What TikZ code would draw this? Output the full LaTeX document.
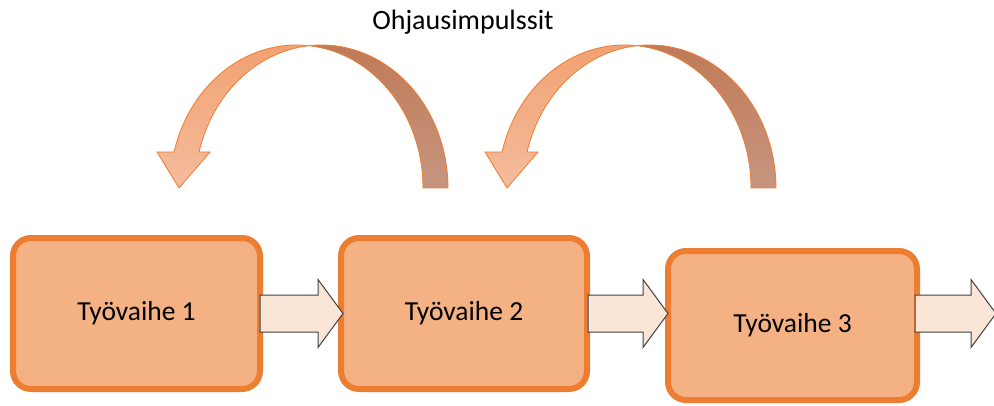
\documentclass[tikz,border=0pt]{standalone}
\usepackage{fontspec}
\setmainfont{Carlito}
\definecolor{boxfill}{HTML}{F4B183}
\definecolor{boxline}{HTML}{ED7D31}
\definecolor{flowfill}{HTML}{FBE5D6}
\definecolor{flowline}{HTML}{404040}
\definecolor{swingtop}{HTML}{F1A070}
\definecolor{swingbottom}{HTML}{F5BC9D}
\definecolor{backtop}{HTML}{C07A57}
\definecolor{backbottom}{HTML}{C6957F}
% block arrow from tail #1 to tip #2
\newcommand\stepflow[2]{\draw[flowarrow] ([yshift=18.5pt]#1) -- ([shift={(-25,18.5)}]#2) -- ([shift={(-25,34)}]#2) -- (#2) -- ([shift={(-25,-34)}]#2) -- ([shift={(-25,-18.5)}]#2) -- ([yshift=-18.5pt]#1) -- cycle;}
\begin{document}
\begin{tikzpicture}[x=1pt, y=1pt,
  phase/.style={draw=boxline, fill=boxfill, line width=6pt, rounded corners=18pt, minimum width=247pt, minimum height=151pt, font=\fontsize{27.5}{32}\selectfont},
  flowarrow/.style={draw=flowline, fill=flowfill, line width=1pt, line join=miter},
  swing/.style={draw=boxline, line width=0.8pt, top color=swingtop, bottom color=swingbottom},
  swingback/.style={draw=boxline, line width=0.8pt, top color=backtop, bottom color=backbottom},
  oval/.style={x radius=126.5, y radius=143}]
\useasboundingbox (0,0) rectangle (994,405);
\node[font=\fontsize{28}{32}\selectfont] (title) at (463,383) {Ohjausimpulssit};
\node[phase] (b1) at (136.5,91.5) {Työvaihe 1};
\node[phase, minimum width=246pt] (b2) at (464,91.5) {Työvaihe 2};
\node[phase, minimum width=249pt, minimum height=149pt] (b3) at (792.5,79.5) {Työvaihe 3};
\coordinate (out) at (996,91.5);
\coordinate (t1) at ([xshift=-3pt]b1.east);
\coordinate (h1) at ([xshift=5pt]b2.west);
\coordinate (t2) at ([xshift=-2pt]b2.east);
\coordinate (h2) at ([xshift=3pt]b2.east -| b3.west);
\coordinate (t3) at ([xshift=-5pt]b3.east |- out);
\stepflow{t1}{h1}
\stepflow{t2}{h2}
\stepflow{t3}{out}
% curved arrows: two equal ellipses 25pt apart, crossing at the top
\foreach \cx in {309,637} {
  \draw[swing] (\cx,359.3) arc[oval, start angle=84.33, end angle=165.4] -- (\cx-152,253) -- (\cx-130,217) -- (\cx-99,253) -- (\cx-109.9,253.05) arc[oval, start angle=165.4, end angle=95.67] -- cycle;
  \draw[swingback] (\cx,359.3) arc[oval, start angle=95.67, end angle=0] -- ++(-25,0) arc[oval, start angle=0, end angle=84.33] -- cycle;
}
\end{tikzpicture}
\end{document}
